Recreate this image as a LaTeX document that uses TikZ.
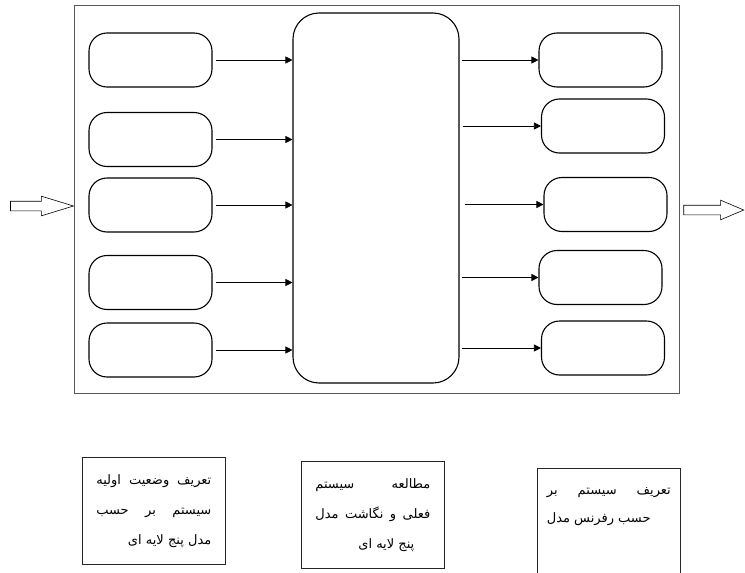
\documentclass[tikz,border=0pt]{standalone}
\usepackage{fontspec}
\newfontfamily\farsi[Script=Arabic]{DejaVu Sans}
\TeXXeTstate=1
\usetikzlibrary{shapes.arrows,arrows.meta,positioning}
\newcommand{\fa}[1]{\beginR#1\endR}

\begin{document}
\begin{tikzpicture}[x=1pt, y=-1pt,
  pill/.style={rectangle, draw, line width=1.1pt, rounded corners=18pt, minimum width=123pt, minimum height=54pt, inner sep=0pt},
  core/.style={rectangle, draw, line width=1.1pt, rounded corners=26pt, minimum width=166pt, minimum height=370pt, inner sep=0pt},
  arr/.style={-{Triangle[length=7pt, width=7pt]}, line width=0.6pt},
  hollow/.style={single arrow, draw, line width=0.6pt, inner xsep=0pt, inner ysep=4.5pt, single arrow head extend=5pt, anchor=tip},
  note/.style={rectangle, draw=black!85, line width=0.7pt, inner xsep=14pt, inner ysep=8pt, anchor=north west, font=\farsi\fontsize{13}{30}\selectfont}
]
  \useasboundingbox (0,0) rectangle (745,573);

  % outer frame
  \node[rectangle, draw=black!65, line width=0.8pt, minimum width=605pt, minimum height=388pt] (frame) at (376.5,199) {};

  % input / output
  \node[hollow, minimum height=63pt, single arrow tip angle=34] (inarr) at (74.5,206) {};
  \node[hollow, minimum height=60pt, single arrow tip angle=46] (outarr) at (744.5,210) {};

  % left column
  \node[pill] (l1) at (150.5,60) {};
  \node[pill] (l2) at (150.5,139.5) {};
  \node[pill] (l3) at (150.5,205) {};
  \node[pill] (l4) at (150.5,282.5) {};
  \node[pill] (l5) at (150.5,350) {};

  % middle block
  \node[core] (core) at (376,198) {};

  % right column
  \node[pill] (r1) at (600.5,60) {};
  \node[pill] (r2) at (603,126) {};
  \node[pill] (r3) at (605.5,204.5) {};
  \node[pill] (r4) at (600.5,277.5) {};
  \node[pill] (r5) at (603,348) {};

  \draw[arr] ([xshift=3pt]l1.east) -- (l1.east -| core.west);
  \draw[arr] ([xshift=3pt]l2.east) -- (l2.east -| core.west);
  \draw[arr] ([xshift=3pt]l3.east) -- (l3.east -| core.west);
  \draw[arr] ([xshift=3pt]l4.east) -- (l4.east -| core.west);
  \draw[arr] ([xshift=3pt]l5.east) -- (l5.east -| core.west);

  \draw[arr] ([xshift=2pt]core.east |- r1.west) -- (r1.west);
  \draw[arr] ([xshift=3pt]core.east |- r2.west) -- (r2.west);
  \draw[arr] ([xshift=5pt]core.east |- r3.west) -- (r3.west);
  \draw[arr] ([xshift=2pt]core.east |- r4.west) -- (r4.west);
  \draw[arr] ([xshift=2pt]core.east |- r5.west) -- (r5.west);

  % notes below
  \node[note] (noteinit) at (82,457) {\parbox[t][91pt][t]{115pt}{\raggedleft
    \vspace*{9pt}\fa{تعریف\hfill وضعیت\hfill اولیه}\\
    \fa{سیستم\hfill بر\hfill حسب}\\
    \fa{مدل پنج لایه ای}}};
  \node[note] (notestudy) at (301,461) {\parbox[t][91pt][t]{115pt}{\raggedleft
    \vspace*{9pt}\fa{مطالعه\hfill سیستم}\\
    \fa{فعلی\hfill و\hfill نگاشت\hfill مدل}\\
    \fa{پنج لایه ای}\hspace*{16pt}}};
  \node[note, inner xsep=9.5pt] (noteref) at (537,468) {\parbox[t][91pt][t]{124pt}{\raggedleft\baselineskip=28pt
    \vspace*{11pt}\fa{تعریف\hfill سیستم\hfill بر}\\
    \fa{حسب رفرنس مدل}\hspace*{\fill}}};
\end{tikzpicture}
\end{document}
